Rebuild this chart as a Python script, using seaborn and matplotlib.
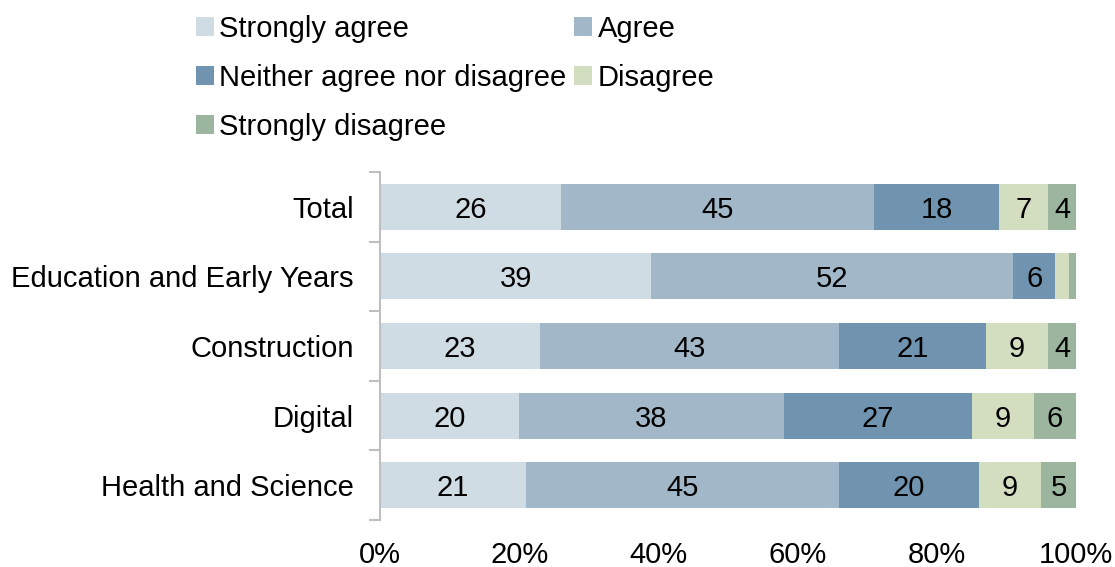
import numpy as np
import pandas as pd
import matplotlib
matplotlib.use("Agg")
import matplotlib.pyplot as plt
import seaborn as sns
from matplotlib.patches import Patch

categories = ["Total", "Education and Early Years", "Construction", "Digital", "Health and Science"]
series = ["Strongly agree", "Agree", "Neither agree nor disagree", "Disagree", "Strongly disagree"]
strongly_agree = [26, 39, 23, 20, 21]
agree = [45, 52, 43, 38, 45]
neither = [18, 6, 21, 27, 20]
disagree = [7, 2, 9, 9, 9]
strongly_disagree = [4, 1, 4, 6, 5]
show_label = [[True]*5, [True, True, True, False, False], [True]*5, [True]*5, [True]*5]
colors = ["#D0DCE4", "#A2B8C9", "#7094AF", "#D3DDC0", "#9BB59F"]
xticks = [0, 20, 40, 60, 80, 100]

sns.set_theme(style="white")
plt.rcParams['font.family'] = ['Liberation Sans', 'DejaVu Sans']
plt.rcParams['text.color'] = 'black'
plt.rcParams['xtick.color'] = 'black'
plt.rcParams['ytick.color'] = 'black'

vals = np.array([strongly_agree, agree, neither, disagree, strongly_disagree], dtype=float)
cum = np.cumsum(vals, axis=0)

fig = plt.figure(figsize=(11.15, 5.67), dpi=100)
ax = fig.add_axes([380/1115, 1-520/567, 696/1115, 348/567])

for i in range(len(series)-1, -1, -1):
    df = pd.DataFrame({"cat": categories, "val": cum[i]})
    sns.barplot(data=df, y="cat", x="val", orient="h", color=colors[i],
                width=0.66, saturation=1, ax=ax, linewidth=0)

fs = 21
for j, cat in enumerate(categories):
    for i in range(len(series)):
        if show_label[j][i]:
            center = cum[i][j] - vals[i][j]/2
            ax.text(center, j, f"{int(vals[i][j])}", ha="center", va="center_baseline",
                    fontsize=fs, color="black")

ax.set_xlim(0, 100)
ax.set_ylim(4.5, -0.5)
ax.set_xticks(xticks)
ax.set_xticklabels([f"{t}%" for t in xticks], fontsize=fs, color="black")
ax.set_xlabel("")
ax.set_ylabel("")
ax.tick_params(axis="y", labelsize=fs, length=0, pad=19, labelcolor="black")
ax.tick_params(axis="x", length=0, pad=15, labelcolor="black")
ax.set_yticks(np.arange(-0.5, 5.0, 1.0), minor=True)
ax.tick_params(axis="y", which="minor", length=8, color="#BFBFBF", width=1.5, left=True)
for s in ["top", "right", "bottom"]:
    ax.spines[s].set_visible(False)
ax.spines["left"].set_color("#BFBFBF")
ax.spines["left"].set_linewidth(1.5)
ax.grid(False)

# legend: row-major order as in reference -> reorder for column-major fill
order = [0, 2, 4, 1, 3]
handles = [Patch(facecolor=colors[k], edgecolor="none") for k in order]
labels = [series[k] for k in order]
leg = fig.legend(handles, labels, loc="upper left", bbox_to_anchor=(181/1115, 1.0), ncol=2,
           frameon=False, fontsize=fs, handlelength=0.62, handleheight=0.62,
           handletextpad=0.2, columnspacing=0.25, labelspacing=0.72, borderaxespad=0.1)
for t in leg.get_texts():
    t.set_color("black")

fig.savefig("out.png", dpi=100)
